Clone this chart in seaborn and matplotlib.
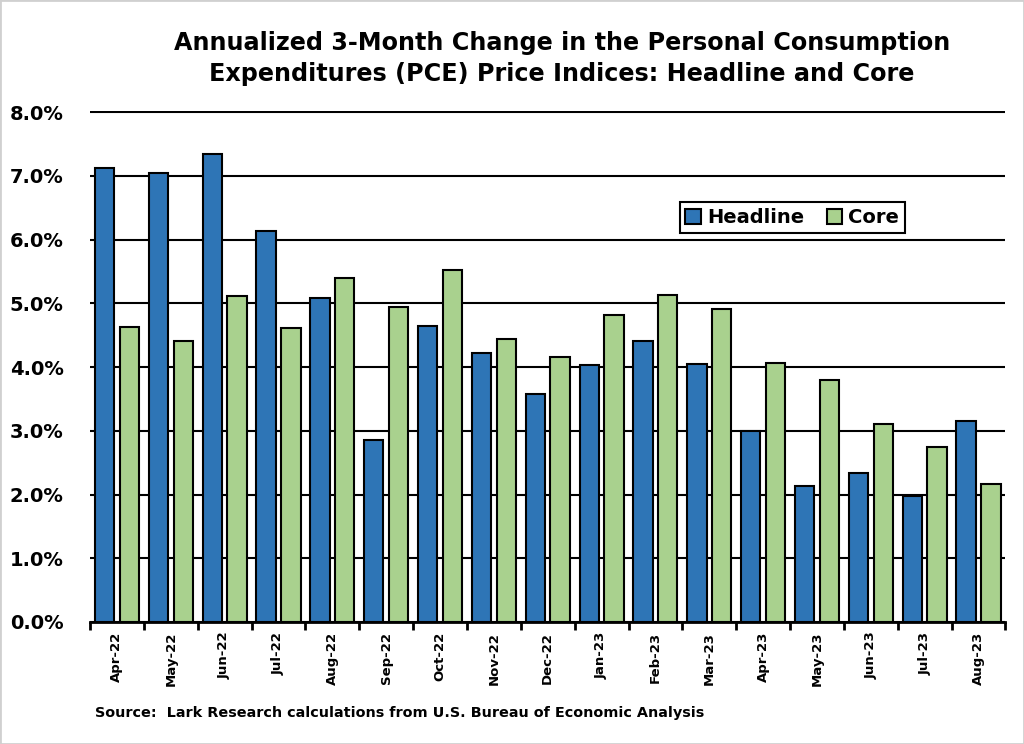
import pandas as pd
import matplotlib
matplotlib.use("Agg")
import matplotlib.pyplot as plt
from matplotlib.ticker import PercentFormatter, FixedLocator
from matplotlib.patches import Rectangle
import seaborn as sns

# -----------------------------
# Data (in %)
# -----------------------------
months = ["Apr-22", "May-22", "Jun-22", "Jul-22", "Aug-22", "Sep-22",
          "Oct-22", "Nov-22", "Dec-22", "Jan-23", "Feb-23", "Mar-23",
          "Apr-23", "May-23", "Jun-23", "Jul-23", "Aug-23"]
headline = [7.13, 7.05, 7.35, 6.13, 5.09, 2.85, 4.65, 4.22, 3.58,
            4.03, 4.41, 4.05, 2.99, 2.14, 2.33, 1.97, 3.15]
core = [4.63, 4.41, 5.11, 4.62, 5.39, 4.95, 5.53, 4.44, 4.15,
        4.81, 5.13, 4.91, 4.07, 3.79, 3.11, 2.75, 2.16]
series_names = ["Headline", "Core"]
y_ticks = [0, 1, 2, 3, 4, 5, 6, 7, 8]

title = ("Annualized 3-Month Change in the Personal Consumption\n"
         "Expenditures (PCE) Price Indices: Headline and Core")
source = "Source:  Lark Research calculations from U.S. Bureau of Economic Analysis"

BLUE = "#2E75B6"
GREEN = "#A9D18E"

df = pd.DataFrame({
    "month": months * 2,
    "value": headline + core,
    "series": [series_names[0]] * len(months) + [series_names[1]] * len(months),
})

# -----------------------------
# Plot
# -----------------------------
sns.set_theme(style="white")
plt.rcParams["font.family"] = ["DejaVu Sans"]
plt.rcParams["font.weight"] = "bold"
plt.rcParams["text.color"] = "black"
plt.rcParams["xtick.color"] = "black"
plt.rcParams["ytick.color"] = "black"

fig = plt.figure(figsize=(10.24, 7.44), dpi=100)
ax = fig.add_axes([0.0879, 0.164, 0.894, 0.687])

sns.barplot(data=df, x="month", y="value", hue="series", order=months,
            hue_order=series_names, palette=[BLUE, GREEN],
            width=0.92, gap=0.22, edgecolor="black", linewidth=1.5,
            saturation=1, ax=ax, zorder=3)

ax.set_ylim(0, 8.02)
ax.set_xlim(-0.5, len(months) - 0.5)
ax.yaxis.set_major_locator(FixedLocator(y_ticks))
ax.yaxis.set_major_formatter(PercentFormatter(decimals=1))
ax.set_axisbelow(True)
ax.grid(axis="y", color="black", linewidth=1.5, zorder=0)
ax.grid(axis="x", visible=False)

for side in ["top", "right", "left"]:
    ax.spines[side].set_visible(False)
ax.spines["bottom"].set_color("black")
ax.spines["bottom"].set_linewidth(2)
ax.spines["bottom"].set_zorder(4)

ax.set_xlabel("")
ax.set_ylabel("")
ax.tick_params(axis="y", length=0, labelsize=14, pad=19, colors="black")
for lbl in ax.get_yticklabels():
    lbl.set_fontweight("bold")

# category ticks on boundaries, labels centred
ax.xaxis.set_minor_locator(FixedLocator([i - 0.5 for i in range(len(months) + 1)]))
ax.tick_params(axis="x", which="major", length=0, pad=7, labelsize=9.5,
               labelrotation=90, colors="black")
ax.tick_params(axis="x", which="minor", length=6, width=2, color="black",
               direction="out", bottom=True)
for lbl in ax.get_xticklabels():
    lbl.set_fontweight("bold")

handles, labels = ax.get_legend_handles_labels()
leg = ax.legend(handles, labels, ncol=2, loc="lower left",
                bbox_to_anchor=(0.644, 0.761, 0.246, 0.071), mode="expand",
                frameon=True, fancybox=False, edgecolor="black",
                framealpha=1, fontsize=14, handlelength=0.8,
                handleheight=0.8, handletextpad=0.3, columnspacing=1.2,
                borderpad=0.3, borderaxespad=0)
leg.get_frame().set_linewidth(1.5)
for t in leg.get_texts():
    t.set_fontweight("bold")
    t.set_color("black")

fig.text(0.549, 0.921, title, ha="center", va="center", fontsize=17.2,
         fontweight="bold", linespacing=1.36)
fig.text(0.093, 0.041, source, ha="left", va="center", fontsize=10.4,
         fontweight="bold")

# thin grey frame around the whole picture
fig.patches.append(Rectangle((0, 0), 1, 1, transform=fig.transFigure,
                             fill=False, edgecolor="#d0d0d0", linewidth=2))

fig.savefig("out.png", dpi=100)
